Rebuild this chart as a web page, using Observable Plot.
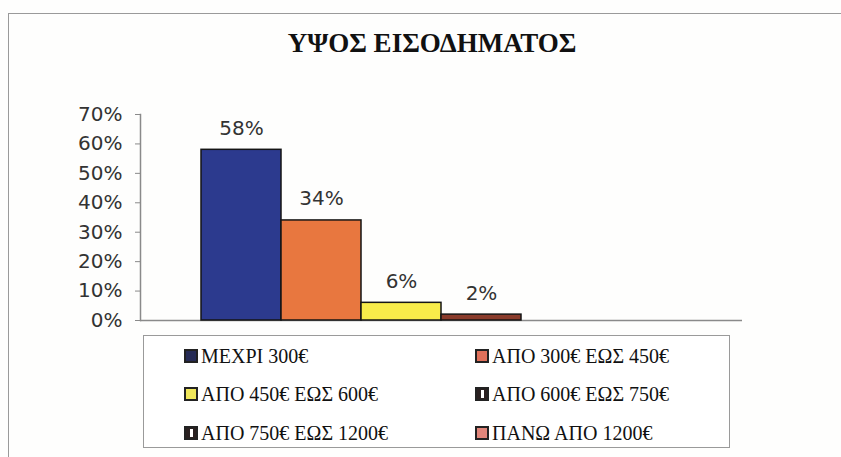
<!DOCTYPE html>
<html>
<head>
<meta charset="utf-8">
<script src="https://cdn.jsdelivr.net/npm/d3@7"></script>
<script src="https://cdn.jsdelivr.net/npm/@observablehq/plot@0.6"></script>
<style>
  html, body { margin: 0; padding: 0; background: #ffffff; }
  #wrap { position: relative; width: 841px; height: 457px; overflow: hidden; background: #fefefd; }
  #chart { position: absolute; left: 0; top: 0; }
  .frameTop { position: absolute; left: 8px; top: 13px; width: 833px; height: 0; border-top: 1.5px solid #9a9a9a; }
  .frameLeft { position: absolute; left: 8px; top: 13px; width: 0; height: 444px; border-left: 1.5px solid #9a9a9a; }
  #title { position: absolute; top: 30px; left: 432px; transform: translateX(-50%); white-space: nowrap;
           font-family: "Liberation Serif", "DejaVu Serif", serif; font-weight: 700; font-size: 27px; line-height: 27px; color: #111; }
  #legend { position: absolute; left: 143px; top: 335px; width: 587px; height: 113px; border: 1px solid #9a9a9a; box-sizing: border-box; background: #fff; }
  .item { position: absolute; display: flex; align-items: center; height: 20px; white-space: nowrap;
          font-family: "Liberation Serif", serif; font-size: 20px; line-height: 20px; color: #111; }
  .sw { width: 14px; height: 14px; box-sizing: border-box; border: 2px solid #222; margin-right: 3px; position: relative; }
  .stripe { position: absolute; left: 4px; top: 1px; width: 3px; height: 8px; background: #fff; }
</style>
</head>
<body>
<div id="wrap">
  <div class="frameTop"></div>
  <div class="frameLeft"></div>
  <div id="chart"></div>
  <div id="title"></div>
  <div id="legend"></div>
</div>
<script>
// ---- data ----
const chartTitle = "ΥΨΟΣ ΕΙΣΟΔΗΜΑΤΟΣ";
const categories = ["ΜΕΧΡΙ 300€", "ΑΠΟ 300€ ΕΩΣ 450€", "ΑΠΟ 450€ ΕΩΣ 600€", "ΑΠΟ 600€ ΕΩΣ 750€", "ΑΠΟ 750€ ΕΩΣ 1200€", "ΠΑΝΩ ΑΠΟ 1200€"];
const values = [0.58, 0.34, 0.06, 0.02, 0, 0];
const valueLabels = ["58%", "34%", "6%", "2%", "", ""];
const barColors = ["#2c3a8e", "#e8773f", "#f8ec4a", "#8a3b2b", "#5a2a2a", "#e0857a"];
const legendColors = ["#262b55", "#e0705a", "#efe65a", "#2a2020", "#2a2020", "#e0857a"];
const legendStripe = [false, false, false, true, true, false];
const yTicks = [0, 0.1, 0.2, 0.3, 0.4, 0.5, 0.6, 0.7];
const yTickLabels = ["0%", "10%", "20%", "30%", "40%", "50%", "60%", "70%"];

const rows = categories.map((c, i) => ({category: c, value: values[i], label: valueLabels[i], color: barColors[i]}));
const nonZero = rows.filter(d => d.value > 0);

const chart = Plot.plot({
  width: 841,
  height: 457,
  marginLeft: 140,
  marginRight: 99,
  marginTop: 114,
  marginBottom: 137,
  style: {fontFamily: "DejaVu Sans", fontSize: "20px", color: "#333", background: "transparent"},
  x: {type: "band", domain: categories, paddingInner: 0, paddingOuter: 0.76, axis: null},
  y: {domain: [0, 0.7], axis: null},
  marks: [
    Plot.ruleY([0], {stroke: "#8a8a8a", strokeWidth: 1.5}),
    Plot.frame({anchor: "left", stroke: "#8a8a8a", strokeWidth: 1.5}),
    Plot.axisY({ticks: yTicks, tickFormat: (d) => yTickLabels[yTicks.indexOf(d)], tickSize: 5, tickPadding: 13,
                stroke: "#8a8a8a", fill: "#333", fontSize: 20, label: null}),
    Plot.barY(nonZero, {x: "category", y: "value", fill: "color", stroke: "#151515", strokeWidth: 1.5}),
    Plot.text(nonZero, {x: "category", y: "value", text: "label", lineAnchor: "bottom", dy: -15, fill: "#333", fontSize: 20})
  ]
});
document.getElementById("chart").appendChild(chart);
document.getElementById("title").textContent = chartTitle;

// legend
const legend = document.getElementById("legend");
const colX = [40, 331];
const rowY = [10, 48, 87];
categories.forEach((c, i) => {
  const item = document.createElement("div");
  item.className = "item";
  item.style.left = colX[i % 2] + "px";
  item.style.top = rowY[Math.floor(i / 2)] + "px";
  const sw = document.createElement("span");
  sw.className = "sw";
  sw.style.background = legendColors[i];
  if (legendStripe[i]) {
    const st = document.createElement("span");
    st.className = "stripe";
    sw.appendChild(st);
  }
  item.appendChild(sw);
  const t = document.createElement("span");
  t.textContent = c;
  item.appendChild(t);
  legend.appendChild(item);
});
</script>
</body>
</html>
